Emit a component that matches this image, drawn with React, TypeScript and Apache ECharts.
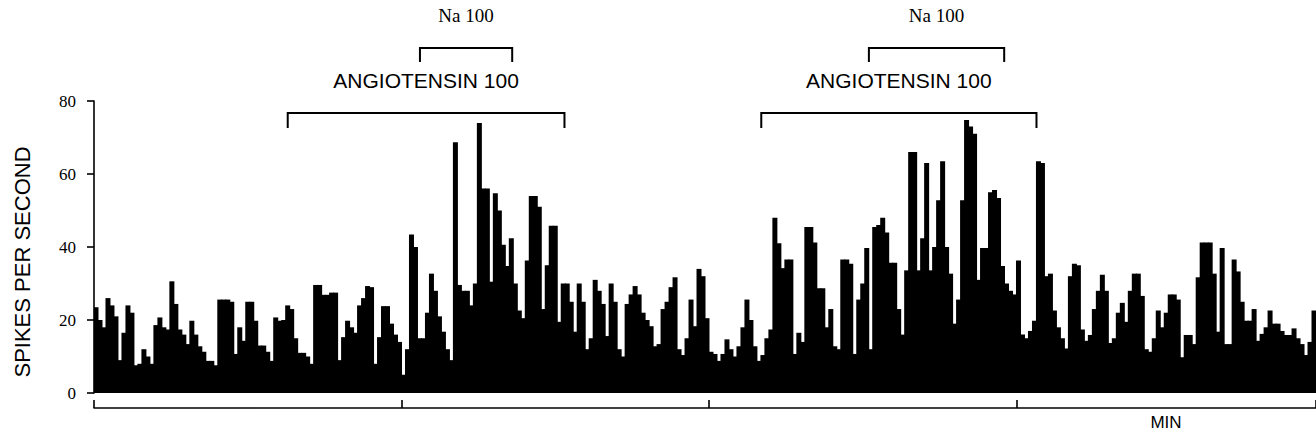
import React, { useEffect, useRef } from "react";
import * as echarts from "echarts";

// Firing rate per bin (spikes per second), left to right
const spikesPerSecond: number[] = [
  23.5, 20, 18, 26, 24, 21, 9, 16.5, 24, 22, 7.6, 8, 12, 10, 8, 18.6, 20.7, 18, 17.4, 30.6,
  24.4, 17.4, 16, 13.4, 19.8, 16, 12.8, 11.3, 8.8, 8.8, 7.6, 25.6, 25.6, 25.6, 25, 10.7, 18, 14.3, 25, 25,
  19.8, 13, 13, 11.3, 8.8, 20.7, 19.8, 20, 24, 23, 15, 11, 11, 10, 8, 29.6, 29.6, 26.9, 26.9, 27.5,
  27.5, 9, 15.3, 19.8, 18, 16.5, 24, 26, 29.3, 29, 8, 15.3, 23.8, 23.8, 19, 16, 14, 5, 12, 43.4,
  40, 15, 15, 22, 32.7, 28, 21, 16.8, 12, 9, 68.7, 29.6, 28, 28, 24, 30, 74, 56, 56, 30.5,
  54.7, 50, 40.6, 34.8, 42.4, 30, 22.6, 20.5, 36.3, 54, 54, 51, 23, 35, 45.8, 45.8, 19.5, 30, 30, 25,
  16.8, 30, 25, 12, 15, 31, 28, 24.4, 15.6, 30, 25, 12, 10, 24.4, 27, 29.3, 27, 22, 20, 18.3,
  12.8, 13.4, 23, 25, 29, 31.7, 12, 10.4, 15, 25.6, 18.3, 34, 32, 20.5, 11.3, 10.7, 8.8, 10.7, 14.7, 12,
  10, 12.8, 18, 25.6, 20, 12.8, 8.8, 10.4, 15, 17.4, 48, 41, 34.2, 36.6, 36.6, 10.7, 16.5, 14, 45.5, 45.5,
  41.2, 28.7, 28.7, 18, 23, 12.8, 12, 36.6, 36.6, 35.4, 10.7, 25.6, 30, 39.7, 12, 45.5, 46, 48, 44, 35.7,
  35.7, 23, 16, 33.6, 66, 66, 33.6, 42.4, 63, 33.6, 40, 52.8, 63.5, 40, 32.7, 19, 25.6, 52.8, 74.8, 73,
  71, 31, 39.7, 39.7, 55, 55.6, 53.4, 34.8, 30, 28, 27, 36.3, 16, 15, 17, 19.8, 63.5, 63, 32, 32.7,
  22.6, 18, 15, 12.2, 32, 35.4, 35, 17.4, 14.3, 15.9, 23, 28, 32.4, 28, 13.7, 15, 22, 24.7, 19.5, 28,
  32.7, 32.7, 26.6, 12, 11.3, 15, 22.6, 18, 22, 27, 27, 25.6, 9.8, 15.9, 15.9, 13.4, 31.7, 41.2, 41.2, 41.2,
  32.7, 16.8, 39.7, 13.4, 13.4, 36.6, 33.3, 25, 19.8, 19.8, 23, 14.3, 16.2, 18, 22.6, 19, 19, 17, 15.9, 15.9,
  17.7, 15, 13.4, 10.4, 14, 22.6,
];
const binLabels: string[] = spikesPerSecond.map((_, i) => String(i));

// y-axis ticks
const yTicks: number[] = [0, 20, 40, 60, 80];

// Stimulus periods, in minutes on the time axis
const angiotensinStart: number[] = [0.63, 2.17];
const angiotensinEnd: number[] = [1.53, 3.065];
const naStart: number[] = [1.06, 2.52];
const naEnd: number[] = [1.36, 2.96];
const angiotensinLabel = "ANGIOTENSIN 100";
const naLabel = "Na 100";

const GRID_LEFT = 94;
const GRID_TOP = 101;
const GRID_H = 292;
const BIN_PX = 4;
const MIN_PX = 308;
const GRID_W = spikesPerSecond.length * BIN_PX;

export default function App() {
  const ref = useRef<HTMLDivElement>(null);
  useEffect(() => {
    const chart = echarts.init(ref.current!, null, { renderer: "svg" });
    chart.setOption({
      animation: false,
      backgroundColor: "#fff",
      grid: { left: GRID_LEFT, top: GRID_TOP, width: GRID_W, height: GRID_H, containLabel: false },
      xAxis: [
        { type: "category", data: binLabels, show: false, boundaryGap: true },
        {
          type: "value",
          min: 0,
          max: GRID_W / MIN_PX,
          interval: 1,
          position: "bottom",
          offset: 15,
          axisLine: { show: true, lineStyle: { color: "#000", width: 1.6 } },
          axisTick: { show: true, inside: true, length: 8, lineStyle: { color: "#000", width: 1.6 } },
          axisLabel: { show: false },
          splitLine: { show: false },
        },
      ],
      yAxis: {
        type: "value",
        min: yTicks[0],
        max: yTicks[yTicks.length - 1],
        interval: 20,
        offset: 15,
        axisLine: { show: true, lineStyle: { color: "#000", width: 1.6 } },
        axisTick: { show: true, length: 7, lineStyle: { color: "#000", width: 1.6 } },
        axisLabel: { color: "#000", fontFamily: "Liberation Serif", fontSize: 17, margin: 3 },
        splitLine: { show: false },
      },
      series: [
        {
          type: "bar",
          xAxisIndex: 0,
          data: spikesPerSecond,
          barWidth: BIN_PX + 1,
          itemStyle: { color: "#000" },
          silent: true,
        },
      ],
    });

    const px = (m: number) => chart.convertToPixel({ xAxisIndex: 1 }, m) as number;
    const bracket = (a: number, b: number, yTop: number, yBot: number) => ({
      type: "polyline",
      shape: { points: [[px(a), yBot], [px(a), yTop], [px(b), yTop], [px(b), yBot]] },
      style: { stroke: "#000", lineWidth: 2, fill: null },
      silent: true,
    });
    const label = (x: number, y: number, text: string, font: string, size: number) => ({
      type: "text",
      x,
      y,
      style: { text, fill: "#000", fontFamily: font, fontSize: size, align: "center", verticalAlign: "middle" },
      silent: true,
    });

    const graphics: any[] = [];
    for (let i = 0; i < angiotensinStart.length; i++) {
      graphics.push(bracket(angiotensinStart[i], angiotensinEnd[i], 113, 128));
      graphics.push(label((px(angiotensinStart[i]) + px(angiotensinEnd[i])) / 2, 80, angiotensinLabel, "Liberation Sans", 21));
      graphics.push(bracket(naStart[i], naEnd[i], 48, 62));
      graphics.push(label((px(naStart[i]) + px(naEnd[i])) / 2, 15, naLabel, "Liberation Serif", 19));
    }
    graphics.push({
      type: "text",
      x: 22,
      y: 262,
      rotation: Math.PI / 2,
      style: { text: "SPIKES PER SECOND", fill: "#000", fontFamily: "Liberation Sans", fontSize: 22, align: "center", verticalAlign: "middle" },
      silent: true,
    });
    graphics.push(label(1166, 422, "MIN", "Liberation Sans", 17));
    chart.setOption({ graphic: graphics });

    return () => chart.dispose();
  }, []);
  return (
    <div
      ref={ref}
      style={{ position: "absolute", left: 0, top: 0, width: 1316, height: 440, background: "#fff" }}
    />
  );
}
